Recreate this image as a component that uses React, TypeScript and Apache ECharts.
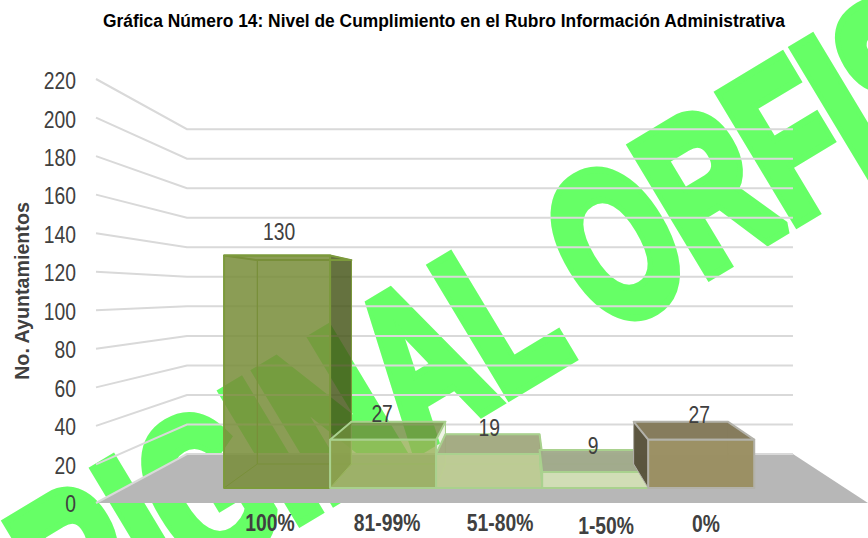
import React, { useEffect, useRef } from "react";
import * as echarts from "echarts";

const categories = ["100%", "81-99%", "51-80%", "1-50%", "0%"];
const values = [130, 27, 19, 9, 27];
const yTicks = [0, 20, 40, 60, 80, 100, 120, 140, 160, 180, 200, 220];
const titleText = "Gráfica Número 14: Nivel de Cumplimiento en el Rubro Información Administrativa";
const yName = "No. Ayuntamientos";
const watermark = "ORIGINAL ORFIS";

// styles per bar
const frontFill = ["rgba(120,141,57,0.86)", "rgba(150,175,85,0.8)", "rgba(190,205,145,0.9)", "rgba(210,222,182,0.97)", "rgba(154,143,98,0.98)"];
const topFill = ["rgba(120,141,57,0)", "rgba(110,140,60,0.8)", "rgba(160,168,125,0.95)", "rgba(160,170,138,0.95)", "rgba(132,121,90,0.98)"];
const sideFill = ["rgba(70,85,24,0.83)", "rgba(150,175,85,0.15)", "rgba(190,205,145,0.15)", "rgba(210,222,182,0.15)", "rgba(89,83,60,0.98)"];
const edgeColor = ["#7c9a3c", "#a9d18e", "#a9d18e", "#a9d18e", "#b3b2aa"];
const labelLift = [24, 8, 6, 4, 7];
const labelShiftX = [2, -1, 0, -2, -2];
const catShift = [10, 13.5, 13, 5.5, -8];
const catDrop = [0, 0, 0, 3, 1];

// perspective model
const VP_X = 519, VP_Y = 293.6, KX = 0.215, KY = 0.234;
const FLOOR_LEFT = 96, FLOOR_RIGHT = 868;
const BAR_D0 = 0.306, BAR_D1 = 0.796;
const project = (x: number, y: number, d: number) => [
  x + (VP_X - x) * d * KX,
  y + (VP_Y - y) * d * KY,
];

const FONT = '"Liberation Sans", Arial, sans-serif';
const NARROW = 0.84;

export default function App() {
  const ref = useRef<HTMLDivElement>(null);
  useEffect(() => {
    const chart = echarts.init(ref.current!, undefined, { renderer: "svg" });
    chart.setOption({
      animation: false,
      backgroundColor: "#fff",
      grid: { left: 203.3, width: 567.5, top: 79, height: 424 },
      xAxis: {
        type: "category", data: categories,
        axisLine: { show: false }, axisTick: { show: false }, axisLabel: { show: false },
      },
      yAxis: {
        type: "value", min: 0, max: 220, interval: 20,
        axisLine: { show: false }, axisTick: { show: false }, splitLine: { show: false }, axisLabel: { show: false },
      },
      graphic: [
        {
          type: "group", x: -2, y: 739, rotation: (31 * Math.PI) / 180, z: -10, silent: true,
          children: [
            {
              type: "text", scaleX: 0.665, z: -10,
              style: {
                text: watermark, x: 0, y: 0, verticalAlign: "bottom",
                font: 'bold 213px "Liberation Sans"', fill: "#66ff66",
                stroke: "#66ff66", lineWidth: 14, lineJoin: "round",
              },
            },
          ],
        },
        {
          type: "text", x: 444, y: 21, scaleX: 0.915, silent: true,
          style: {
            text: titleText, x: 0, y: 0, align: "center", verticalAlign: "middle",
            font: `bold 19px ${FONT}`, fill: "#000",
          },
        },
        {
          type: "text", x: 22, y: 291, rotation: Math.PI / 2, scaleX: 0.937, silent: true,
          style: {
            text: yName, x: 0, y: 0, align: "center", verticalAlign: "middle",
            font: `bold 21px ${FONT}`, fill: "#404040",
          },
        },
      ],
      series: [
        {
          type: "custom", coordinateSystem: "cartesian2d", data: [[0, 0]], silent: true, z: 1,
          renderItem: (_: any, api: any) => {
            const y = api.coord([0, 0])[1];
            const pts = [
              project(FLOOR_LEFT, y, 0), project(FLOOR_LEFT, y, 1),
              project(FLOOR_RIGHT, y, 1), project(FLOOR_RIGHT, y, 0),
            ];
            return { type: "polygon", shape: { points: pts }, style: { fill: "#b7b7b7" } };
          },
        },
        {
          type: "custom", coordinateSystem: "cartesian2d", silent: true, z: 2,
          data: yTicks.map((t) => [0, t]),
          renderItem: (_: any, api: any) => {
            const v = api.value(1);
            const y = api.coord([0, v])[1];
            const pts = [project(FLOOR_LEFT, y, 0), project(FLOOR_LEFT, y, 1), project(FLOOR_RIGHT, y, 1)];
            return {
              type: "group",
              children: [
                { type: "polyline", shape: { points: pts }, style: { stroke: "#d9d9d9", lineWidth: 2, fill: "none" } },
                {
                  type: "text", x: 76, y: y + 1 + (v / 220), scaleX: NARROW,
                  style: { text: String(v), x: 0, y: 0, align: "right", verticalAlign: "middle", font: `23px ${FONT}`, fill: "#404040" },
                },
              ],
            };
          },
        },
        {
          type: "custom", coordinateSystem: "cartesian2d", silent: true, z: 3,
          data: values.map((v, i) => [i, v]),
          renderItem: (p: any, api: any) => {
            const i = p.dataIndex;
            const v = api.value(1);
            const c = api.coord([i, 0]);
            const t = api.coord([i, v]);
            const w = api.size([1, 0])[0];
            const x0 = c[0] - w / 2, x1 = c[0] + w / 2;
            const f = (x: number, y: number) => project(x, y, BAR_D0);
            const b = (x: number, y: number) => project(x, y, BAR_D1);
            const yb = c[1], yt = t[1];
            const edge = edgeColor[i];
            const face = (pts: number[][], fill: string, lw = 2) => ({
              type: "polygon", shape: { points: pts },
              style: { fill, stroke: edge, lineWidth: lw, lineJoin: "round" },
            });
            const fTopY = f(x0, yt)[1], bTopY = b(x0, yt)[1];
            const leftFill = f(x0, yt)[0] > VP_X ? sideFill[i] : "rgba(0,0,0,0)";
            const rightFill = f(x1, yt)[0] < VP_X ? sideFill[i] : "rgba(0,0,0,0)";
            return {
              type: "group",
              children: [
                face([b(x0, yb), b(x1, yb), b(x1, yt), b(x0, yt)], "rgba(0,0,0,0)", 1),
                face([f(x0, yb), b(x0, yb), b(x0, yt), f(x0, yt)], leftFill, 1),
                face([f(x1, yb), b(x1, yb), b(x1, yt), f(x1, yt)], rightFill, 1),
                face([f(x0, yt), f(x1, yt), b(x1, yt), b(x0, yt)], topFill[i]),
                face([f(x0, yb), f(x1, yb), f(x1, yt), f(x0, yt)], frontFill[i]),
                {
                  type: "text", z2: 10, scaleX: NARROW,
                  x: c[0] * (1 - BAR_D0 * KX) + VP_X * BAR_D0 * KX + labelShiftX[i],
                  y: Math.min(fTopY, bTopY) - labelLift[i],
                  style: {
                    text: String(v), x: 0, y: 0, align: "center", verticalAlign: "middle",
                    font: `23px ${FONT}`, fill: "#404040",
                  },
                },
                {
                  type: "text", z2: 10, scaleX: NARROW,
                  x: c[0] + catShift[i], y: yb + 20 + catDrop[i],
                  style: {
                    text: categories[i], x: 0, y: 0, align: "center", verticalAlign: "middle",
                    font: `bold 23px ${FONT}`, fill: "#404040",
                  },
                },
              ],
            };
          },
        },
      ],
    });
    return () => chart.dispose();
  }, []);
  return <div ref={ref} style={{ position: "fixed", left: 0, top: 0, width: 868, height: 538 }} />;
}
